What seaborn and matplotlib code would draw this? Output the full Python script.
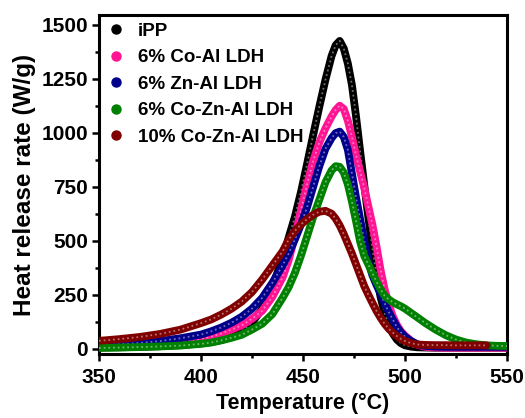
import matplotlib
matplotlib.use("Agg")
import numpy as np
import pandas as pd
import seaborn as sns
import matplotlib.pyplot as plt
from matplotlib.lines import Line2D
from matplotlib.ticker import MultipleLocator

temperature = [350, 360, 370, 380, 390, 400, 405, 410, 415, 420, 425, 430, 435, 440, 443, 446,
               449, 452, 455, 458, 461, 464, 466, 468, 470, 472, 474, 476, 478, 480, 482, 484,
               486, 488, 490, 492, 494, 496, 498, 500, 503, 506, 510, 515, 520, 525, 530, 535,
               540, 545, 550]

ipp = [5, 6, 8, 11, 16, 24, 30, 40, 55, 80, 120, 185, 290, 415, 515, 610,
       725, 855, 990, 1120, 1245, 1355, 1405, 1425, 1390, 1320, 1220, 1075, 915, 760, 610, 465,
       340, 240, 165, 110, 70, 42, 25, 15, 9, 6, 5, 4, 4, 4, 4, 4,
       4, 4, 4]

co_al = [10, 12, 16, 22, 32, 45, 55, 70, 88, 108, 138, 175, 240, 330, 410, 520,
         640, 760, 870, 955, 1020, 1075, 1105, 1125, 1110, 1055, 980, 895, 820, 745, 660, 575,
         475, 365, 275, 205, 150, 110, 80, 60, 35, 18, 8, 5, 4, 4, 4, 4,
         4, 4, 4]

zn_al = [15, 20, 26, 35, 48, 65, 80, 98, 120, 148, 185, 235, 305, 385, 440, 505,
         575, 655, 750, 845, 925, 975, 998, 1005, 980, 920, 810, 700, 600, 500, 405, 340,
         295, 255, 210, 170, 135, 100, 75, 55, 35, 20, 12, 9, 8, 8, 8, 8,
         8, 8, 8]

co_zn_al = [3, 5, 7, 10, 14, 22, 28, 38, 50, 64, 88, 115, 160, 235, 285, 350,
            430, 520, 610, 690, 770, 825, 845, 842, 815, 760, 680, 590, 495, 430, 390, 350,
            310, 275, 245, 228, 215, 205, 196, 185, 165, 145, 118, 88, 62, 42, 28, 20,
            15, 13, 12]

co_zn_al_10 = [36, 44, 54, 68, 88, 118, 135, 158, 185, 218, 262, 320, 385, 450, 505, 545,
               575, 600, 620, 634, 638, 625, 602, 570, 530, 485, 440, 390, 340, 290, 250, 212,
               175, 143, 115, 92, 74, 58, 45, 35, 25, 19, 17, 16, 16, 15, 15, 15,
               15, np.nan, np.nan]

labels = ["iPP", "6% Co-Al LDH", "6% Zn-Al LDH", "6% Co-Zn-Al LDH", "10% Co-Zn-Al LDH"]
colors = ["#000000", "#ff1493", "#00008b", "#008000", "#800000"]
series = [ipp, co_al, zn_al, co_zn_al, co_zn_al_10]

frames = []
for lab, vals in zip(labels, series):
    frames.append(pd.DataFrame({"T": temperature, "HRR": vals, "sample": lab}))
df = pd.concat(frames, ignore_index=True).dropna()

sns.set_style("ticks")
plt.rcParams["font.family"] = ["Liberation Sans", "DejaVu Sans"]
plt.rcParams["font.weight"] = "bold"
plt.rcParams["axes.labelweight"] = "bold"
plt.rcParams["text.color"] = "black"
plt.rcParams["axes.labelcolor"] = "black"
plt.rcParams["xtick.color"] = "black"
plt.rcParams["ytick.color"] = "black"

fig = plt.figure(figsize=(5.25, 4.18), dpi=100)
ax = fig.add_axes([99 / 525, 1 - 354 / 418, (507 - 99) / 525, (354 - 15) / 418])

sns.lineplot(data=df, x="T", y="HRR", hue="sample", hue_order=labels,
             palette=colors, sort=False, estimator=None, lw=5.6, ax=ax,
             legend=False, solid_capstyle="round", solid_joinstyle="round")

for i, line in enumerate(ax.lines[:5]):
    line.set_zorder(2 + i)

for i, (lab, c) in enumerate(zip(labels, colors)):
    sub = df[df["sample"] == lab]
    light = tuple(0.2 * np.array(matplotlib.colors.to_rgb(c)) + 0.8)
    ax.plot(sub["T"], sub["HRR"], color=light, lw=1.3, ls=(0, (1.0, 1.6)),
            alpha=0.55, zorder=2.5 + i)

ax.set_xlim(350, 550)
ax.set_ylim(-25, 1545)
ax.xaxis.set_major_locator(MultipleLocator(50))
ax.xaxis.set_minor_locator(MultipleLocator(25))
ax.yaxis.set_major_locator(MultipleLocator(250))
ax.yaxis.set_minor_locator(MultipleLocator(125))

for s in ax.spines.values():
    s.set_linewidth(2.2)
    s.set_color("black")
ax.tick_params(which="major", direction="out", length=5, width=1.8, labelsize=15,
               colors="black")
ax.tick_params(axis="y", which="major", pad=3)
ax.tick_params(axis="x", which="major", pad=5)
ax.tick_params(which="minor", direction="out", length=3, width=1.8, colors="black")
ax.tick_params(top=False, right=False, which="both")
for t in ax.get_xticklabels() + ax.get_yticklabels():
    t.set_fontweight("bold")

ax.set_xlabel("Temperature (°C)", fontsize=15.5, fontweight="bold", labelpad=4)
ax.set_ylabel("Heat release rate (W/g)", fontsize=17.5, fontweight="bold", labelpad=4)

handles = [Line2D([], [], ls="", marker="o", markersize=6.5, markerfacecolor=c,
                  markeredgecolor=c) for c in colors]
ax.legend(handles, labels, loc="upper left", bbox_to_anchor=(0.0, 1.0), frameon=False,
          prop={"size": 13.5, "weight": "bold"}, handletextpad=0.68, labelspacing=0.5,
          borderaxespad=0.0, handlelength=1.0)

fig.savefig("out.png", dpi=100)
